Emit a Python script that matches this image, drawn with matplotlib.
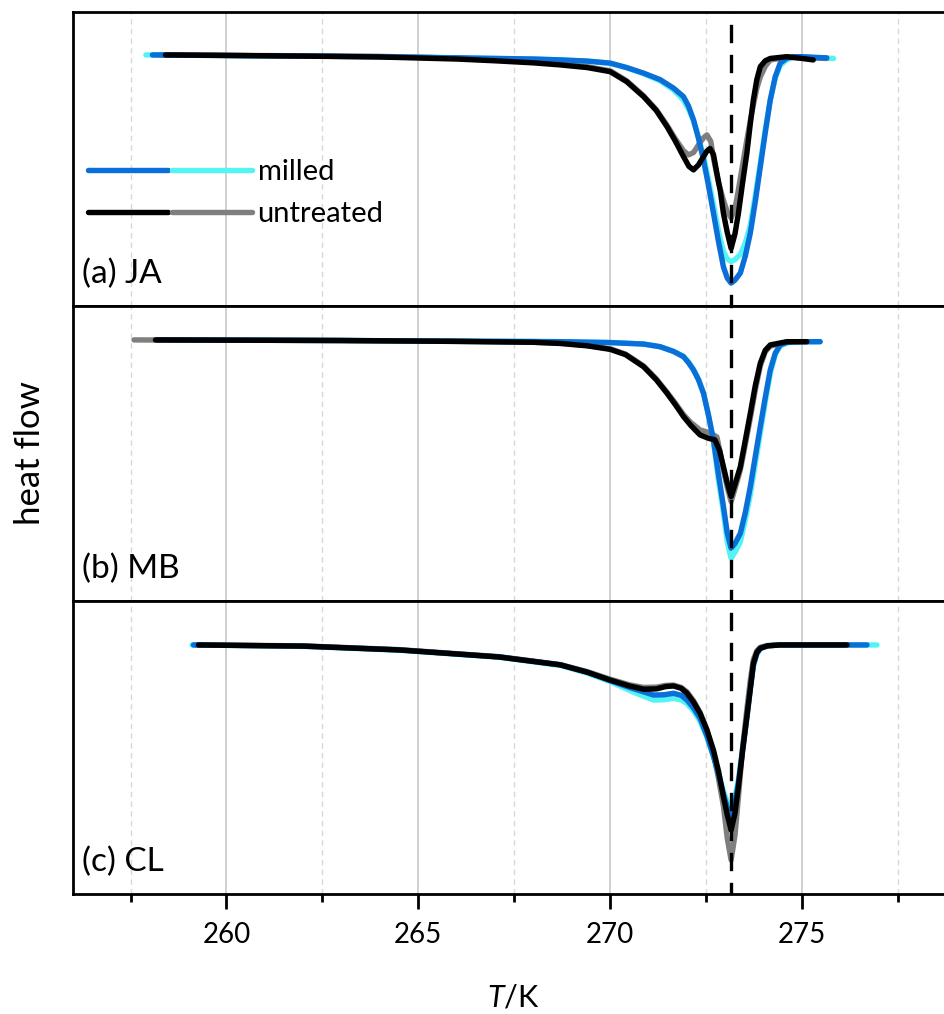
import matplotlib
matplotlib.use("Agg")
import matplotlib.pyplot as plt
from matplotlib.legend_handler import HandlerTuple
from matplotlib.ticker import MultipleLocator

plt.rcParams['font.family'] = ['Lato', 'DejaVu Sans']
plt.rcParams['mathtext.fontset'] = 'custom'
plt.rcParams['mathtext.it'] = 'Lato:italic'
plt.rcParams['mathtext.rm'] = 'Lato'

# ---------------- data (heat flow, arbitrary units) ----------------
# panel (a) JA
a_mill1_T = [258.07, 262.0, 264.0, 266.0, 267.0, 268.0, 268.7, 269.4, 270.0, 270.43, 270.87, 271.3, 271.65, 271.91,
             272.04, 272.17, 272.3, 272.43, 272.56, 272.69, 272.82, 272.95, 273.05, 273.15, 273.25, 273.39, 273.52,
             273.65, 273.78, 273.91, 274.04, 274.17, 274.3, 274.43, 274.6, 274.77, 275.0, 275.29, 275.64]
a_mill1_h = [0.854, 0.850, 0.848, 0.844, 0.842, 0.840, 0.837, 0.833, 0.826, 0.811, 0.792, 0.770, 0.741, 0.712,
             0.680, 0.633, 0.570, 0.497, 0.410, 0.316, 0.220, 0.133, 0.095, 0.078, 0.088, 0.112, 0.170,
             0.248, 0.355, 0.473, 0.590, 0.701, 0.780, 0.826, 0.843, 0.848, 0.848, 0.846, 0.844]
a_mill2_T = [257.9, 262.0, 264.0, 266.0, 267.0, 268.0, 268.7, 269.4, 270.0, 270.43, 270.87, 271.3, 271.65, 271.91,
             272.04, 272.17, 272.3, 272.43, 272.56, 272.69, 272.82, 272.95, 273.05, 273.15, 273.25, 273.39, 273.52,
             273.65, 273.78, 273.91, 274.04, 274.17, 274.3, 274.43, 274.6, 274.77, 275.0, 275.29, 275.82]
a_mill2_h = [0.854, 0.850, 0.848, 0.844, 0.842, 0.840, 0.837, 0.833, 0.826, 0.810, 0.790, 0.766, 0.735, 0.700,
             0.670, 0.630, 0.575, 0.510, 0.430, 0.345, 0.255, 0.185, 0.160, 0.151, 0.158, 0.175, 0.215,
             0.275, 0.375, 0.485, 0.600, 0.700, 0.775, 0.818, 0.838, 0.845, 0.846, 0.845, 0.842]
a_unt1_T = [258.41, 262.0, 264.0, 266.0, 267.0, 268.0, 268.7, 269.4, 270.0, 270.43, 270.87, 271.2, 271.48, 271.7,
            271.91, 272.05, 272.17, 272.3, 272.43, 272.52, 272.60, 272.69, 272.78, 272.87, 272.95, 273.05, 273.15,
            273.25, 273.34, 273.45, 273.56, 273.65, 273.73, 273.82, 273.91, 274.04, 274.17, 274.6, 275.0, 275.29]
a_unt1_h = [0.854, 0.850, 0.847, 0.840, 0.834, 0.827, 0.820, 0.811, 0.797, 0.763, 0.712, 0.665, 0.610, 0.560,
            0.508, 0.475, 0.463, 0.480, 0.508, 0.527, 0.536, 0.515, 0.451, 0.390, 0.315, 0.250, 0.196,
            0.245, 0.315, 0.420, 0.519, 0.620, 0.701, 0.770, 0.814, 0.834, 0.842, 0.848, 0.842, 0.837]
a_unt2_T = [258.28, 262.0, 264.0, 266.0, 267.0, 268.0, 268.7, 269.4, 270.0, 270.43, 270.87, 271.2, 271.48, 271.7,
            271.91, 272.04, 272.17, 272.3, 272.43, 272.52, 272.62, 272.7, 272.82, 272.95, 273.05, 273.15,
            273.25, 273.34, 273.45, 273.56, 273.65, 273.73, 273.82, 273.91, 274.04, 274.17, 274.6, 275.0, 275.64]
a_unt2_h = [0.854, 0.851, 0.849, 0.843, 0.837, 0.830, 0.824, 0.814, 0.800, 0.766, 0.715, 0.668, 0.615, 0.568,
            0.528, 0.514, 0.522, 0.548, 0.572, 0.582, 0.560, 0.497, 0.420, 0.360, 0.320, 0.300,
            0.330, 0.395, 0.480, 0.565, 0.630, 0.684, 0.740, 0.779, 0.815, 0.837, 0.846, 0.845, 0.842]

# panel (b) MB
b_mill1_T = [258.2, 263.0, 266.0, 268.7, 270.0, 270.87, 271.3, 271.65, 271.91, 272.04, 272.17, 272.3, 272.43,
             272.56, 272.69, 272.82, 272.95, 273.05, 273.15, 273.25, 273.39, 273.52, 273.65, 273.78, 273.91,
             274.04, 274.17, 274.3, 274.43, 274.6, 274.77, 275.47]
b_mill1_h = [0.885, 0.883, 0.881, 0.879, 0.876, 0.871, 0.862, 0.846, 0.828, 0.808, 0.783, 0.750, 0.704,
             0.630, 0.546, 0.430, 0.320, 0.230, 0.179, 0.195, 0.229, 0.300, 0.387, 0.490, 0.591,
             0.690, 0.783, 0.840, 0.868, 0.876, 0.879, 0.879]
b_mill2_T = [258.2, 263.0, 266.0, 268.7, 270.0, 270.87, 271.3, 271.65, 271.91, 272.04, 272.17, 272.3, 272.43,
             272.56, 272.69, 272.82, 272.95, 273.05, 273.15, 273.25, 273.39, 273.52, 273.65, 273.78, 273.91,
             274.04, 274.17, 274.3, 274.43, 274.6, 274.77, 275.47]
b_mill2_h = [0.885, 0.883, 0.881, 0.879, 0.876, 0.871, 0.862, 0.846, 0.830, 0.810, 0.786, 0.752, 0.706,
             0.630, 0.540, 0.410, 0.300, 0.200, 0.145, 0.165, 0.200, 0.275, 0.360, 0.465, 0.570,
             0.675, 0.770, 0.835, 0.865, 0.875, 0.878, 0.879]
b_unt1_T = [258.15, 263.0, 266.0, 268.0, 268.7, 269.4, 270.0, 270.4, 270.87, 271.2, 271.48, 271.7, 271.91, 272.1,
            272.34, 272.55, 272.73, 272.85, 272.95, 273.05, 273.15, 273.25, 273.39, 273.52, 273.65, 273.78,
            273.91, 274.04, 274.17, 274.6, 275.12]
b_unt1_h = [0.885, 0.883, 0.880, 0.877, 0.873, 0.865, 0.853, 0.835, 0.794, 0.750, 0.704, 0.665, 0.625, 0.595,
            0.563, 0.552, 0.546, 0.510, 0.455, 0.400, 0.354, 0.395, 0.455, 0.545, 0.636, 0.730,
            0.806, 0.850, 0.868, 0.879, 0.879]
b_unt2_T = [257.59, 263.0, 266.0, 268.0, 268.7, 269.4, 270.0, 270.4, 270.87, 271.2, 271.48, 271.7, 271.91, 272.1,
            272.34, 272.6, 272.78, 272.87, 272.95, 273.05, 273.15, 273.25, 273.39, 273.52, 273.65, 273.78,
            273.91, 274.04, 274.17, 274.6, 275.0]
b_unt2_h = [0.885, 0.883, 0.880, 0.877, 0.874, 0.866, 0.855, 0.837, 0.797, 0.753, 0.708, 0.670, 0.632, 0.605,
            0.580, 0.570, 0.556, 0.500, 0.444, 0.385, 0.337, 0.380, 0.444, 0.530, 0.620, 0.715,
            0.797, 0.845, 0.864, 0.878, 0.879]

# panel (c) CL
c_mill1_T = [259.14, 262.0, 264.5, 267.1, 268.7, 269.4, 270.0, 270.5, 270.87, 271.13, 271.4, 271.65, 271.85,
             272.0, 272.17, 272.34, 272.52, 272.69, 272.82, 272.95, 273.05, 273.15, 273.25, 273.34, 273.45,
             273.56, 273.65, 273.73, 273.82, 273.91, 274.1, 274.43, 275.5, 276.69]
c_mill1_h = [0.850, 0.846, 0.833, 0.809, 0.782, 0.757, 0.728, 0.705, 0.690, 0.679, 0.680, 0.685, 0.678,
             0.662, 0.635, 0.600, 0.540, 0.470, 0.410, 0.340, 0.295, 0.264, 0.310, 0.380, 0.490,
             0.600, 0.700, 0.780, 0.820, 0.838, 0.847, 0.850, 0.850, 0.850]
c_mill2_T = [259.1, 262.0, 264.5, 267.1, 268.7, 269.4, 270.0, 270.5, 270.87, 271.13, 271.4, 271.65, 271.85,
             272.0, 272.17, 272.34, 272.52, 272.69, 272.82, 272.95, 273.05, 273.15, 273.25, 273.34, 273.45,
             273.56, 273.65, 273.73, 273.82, 273.91, 274.1, 274.43, 275.5, 276.95]
c_mill2_h = [0.850, 0.845, 0.832, 0.808, 0.780, 0.754, 0.725, 0.695, 0.675, 0.662, 0.663, 0.668, 0.662,
             0.650, 0.625, 0.590, 0.535, 0.470, 0.415, 0.350, 0.315, 0.298, 0.330, 0.390, 0.500,
             0.610, 0.705, 0.780, 0.820, 0.838, 0.847, 0.850, 0.850, 0.850]
c_unt1_T = [259.27, 262.0, 264.5, 267.1, 268.7, 269.4, 270.0, 270.5, 270.87, 271.2, 271.45, 271.65, 271.85,
            272.0, 272.17, 272.34, 272.52, 272.69, 272.82, 272.95, 273.05, 273.15, 273.25, 273.34, 273.45,
            273.56, 273.65, 273.73, 273.82, 273.91, 274.1, 274.43, 275.5, 276.17]
c_unt1_h = [0.850, 0.846, 0.833, 0.809, 0.782, 0.757, 0.730, 0.710, 0.699, 0.700, 0.708, 0.710, 0.702,
            0.685, 0.655, 0.617, 0.560, 0.491, 0.420, 0.332, 0.270, 0.218, 0.275, 0.366, 0.490,
            0.605, 0.700, 0.787, 0.825, 0.839, 0.847, 0.850, 0.850, 0.850]
c_unt2_T = [259.2, 262.0, 264.5, 267.1, 268.7, 269.4, 270.0, 270.5, 270.87, 271.2, 271.45, 271.65, 271.85,
            272.0, 272.17, 272.34, 272.52, 272.69, 272.82, 272.95, 273.05, 273.15, 273.25, 273.34, 273.45,
            273.56, 273.65, 273.73, 273.82, 273.91, 274.1, 274.43, 275.5, 276.1]
c_unt2_h = [0.850, 0.847, 0.834, 0.810, 0.783, 0.759, 0.733, 0.714, 0.705, 0.706, 0.712, 0.713, 0.705,
            0.690, 0.660, 0.620, 0.560, 0.480, 0.395, 0.300, 0.190, 0.116, 0.200, 0.330, 0.500,
            0.630, 0.730, 0.800, 0.830, 0.842, 0.848, 0.850, 0.850, 0.850]

panel_labels = ["(a) JA", "(b) MB", "(c) CL"]
legend_labels = ["milled", "untreated"]
T_melt = 273.15
x_ticks = [260, 265, 270, 275]

# ---------------- styling ----------------
C_BLUE = '#0a6fd8'
C_CYAN = '#55f4f4'
C_BLACK = '#000000'
C_GRAY = '#7f7f7f'
LW = 3.9

fig = plt.figure(figsize=(9.44, 10.14), dpi=100)
left, width = 73 / 944, 882.6 / 944
rects = [
    (left, (1014 - 306) / 1014, width, 294 / 1014),
    (left, (1014 - 601) / 1014, width, 295 / 1014),
    (left, (1014 - 894) / 1014, width, 293 / 1014),
]
axes = [fig.add_axes(r) for r in rects]

panels = [
    (a_mill1_T, a_mill1_h, a_mill2_T, a_mill2_h, a_unt1_T, a_unt1_h, a_unt2_T, a_unt2_h),
    (b_mill1_T, b_mill1_h, b_mill2_T, b_mill2_h, b_unt1_T, b_unt1_h, b_unt2_T, b_unt2_h),
    (c_mill1_T, c_mill1_h, c_mill2_T, c_mill2_h, c_unt1_T, c_unt1_h, c_unt2_T, c_unt2_h),
]

for i, (ax, data, lab) in enumerate(zip(axes, panels, panel_labels)):
    m1T, m1h, m2T, m2h, u1T, u1h, u2T, u2h = data
    kw = dict(lw=LW, solid_capstyle='round', solid_joinstyle='round')
    l_m2, = ax.plot(m2T, m2h, color=C_CYAN, zorder=3, **kw)
    l_u2, = ax.plot(u2T, u2h, color=C_GRAY, zorder=3, **kw)
    l_m1, = ax.plot(m1T, m1h, color=C_BLUE, zorder=4, **kw)
    l_u1, = ax.plot(u1T, u1h, color=C_BLACK, zorder=5, **kw)
    ax.axvline(T_melt, color='black', lw=2.4, ls=(2, (5.5, 3.5)), zorder=6)

    ax.set_xlim(256, 279)
    ax.set_ylim(0, 1)
    ax.xaxis.set_major_locator(MultipleLocator(5))
    ax.xaxis.set_minor_locator(MultipleLocator(2.5))
    ax.grid(True, which='major', axis='x', color='#c4c4c4', lw=1.1, zorder=0)
    ax.grid(True, which='minor', axis='x', color='#d8d8d8', lw=1.0, ls=(0, (4, 3)), zorder=0)
    ax.set_yticks([])
    for s in ax.spines.values():
        s.set_linewidth(2.0)
    ax.text(0.010, 0.11, lab, transform=ax.transAxes, fontsize=24, va='center', ha='left')

    if i < 2:
        ax.tick_params(axis='x', which='both', bottom=False, labelbottom=False)
    else:
        ax.set_xticks(x_ticks)
        ax.tick_params(axis='x', which='major', direction='out', length=11, width=2.0,
                       labelsize=20, pad=9)
        ax.tick_params(axis='x', which='minor', direction='out', length=6, width=2.0)

    if i == 0:
        leg = ax.legend([(l_m1, l_m2), (l_u1, l_u2)], legend_labels,
                        handler_map={tuple: HandlerTuple(ndivide=None, pad=0.12)},
                        loc='upper left', bbox_to_anchor=(0.0175, 0.5), frameon=False,
                        fontsize=21, handlelength=5.6, handletextpad=0.2, labelspacing=0.55,
                        borderpad=0, borderaxespad=0)

fig.text(30 / 944, (1014 - 453) / 1014, 'heat flow', rotation=90, fontsize=25,
         ha='center', va='center')
fig.text(513 / 944, (1014 - 997) / 1014, '$T$/K', fontsize=22, ha='center', va='center')

fig.savefig('out.png', dpi=100)
